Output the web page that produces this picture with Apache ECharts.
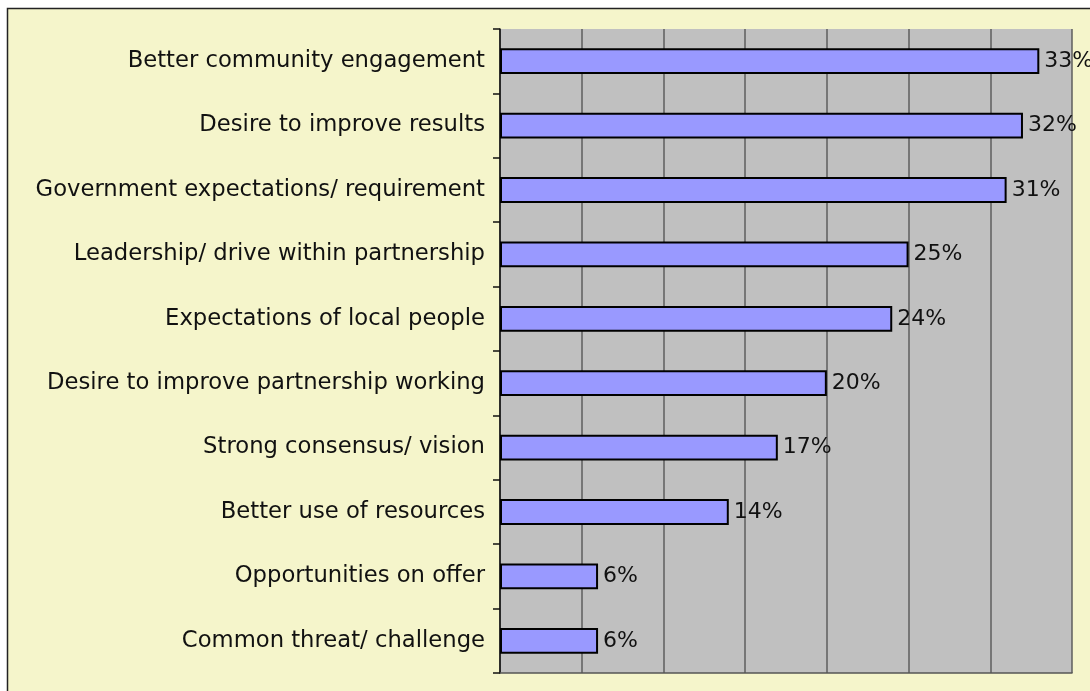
<!DOCTYPE html>
<html>
<head>
<meta charset="utf-8">
<script src="https://cdn.jsdelivr.net/npm/echarts@6/dist/echarts.min.js"></script>
<style>
  html, body { margin: 0; padding: 0; background: #ffffff; }
  #chart { width: 1090px; height: 691px; }
</style>
</head>
<body>
<div id="chart"></div>
<script>
// Reasons given for partnership working, share of respondents (%)
const categories = [
  'Better community engagement',
  'Desire to improve results',
  'Government expectations/ requirement',
  'Leadership/ drive within partnership',
  'Expectations of local people',
  'Desire to improve partnership working',
  'Strong consensus/ vision',
  'Better use of resources',
  'Opportunities on offer',
  'Common threat/ challenge'
];
const values = [33, 32, 31, 25, 24, 20, 17, 14, 6, 6];

const FONT = '"DejaVu Sans", Verdana, sans-serif';

const chart = echarts.init(document.getElementById('chart'), null, { renderer: 'canvas' });

chart.setOption({
  animation: false,
  backgroundColor: '#ffffff',
  graphic: [{
    type: 'rect',
    z: -10,
    silent: true,
    shape: { x: 7.5, y: 8.5, width: 1100, height: 700 },
    style: { fill: '#F5F5CB', stroke: '#222222', lineWidth: 1.5 }
  }],
  grid: {
    left: 500,
    right: 18,
    top: 29,
    bottom: 18,
    show: true,
    backgroundColor: '#C0C0C0',
    borderWidth: 0
  },
  xAxis: {
    type: 'value',
    min: 0,
    max: 35,
    interval: 5,
    axisLabel: { show: false },
    axisTick: { show: false },
    axisLine: { show: true, lineStyle: { color: '#555555', width: 1.5 } },
    splitLine: { show: true, lineStyle: { color: '#5E5E5E', width: 1.5 } }
  },
  yAxis: {
    type: 'category',
    data: categories,
    inverse: true,
    axisLine: { show: true, lineStyle: { color: '#111111', width: 1.5 } },
    axisTick: { show: true, length: 7, lineStyle: { color: '#111111', width: 1.5 } },
    axisLabel: {
      color: '#111111',
      fontFamily: FONT,
      fontSize: 22.7,
      margin: 15,
      padding: [4, 0, 0, 0]
    },
    splitLine: { show: false }
  },
  series: [{
    type: 'bar',
    data: values,
    barCategoryGap: '60%',
    itemStyle: {
      color: '#9999FF',
      borderColor: '#000000',
      borderWidth: 2
    },
    label: {
      show: true,
      position: 'right',
      distance: 5,
      formatter: '{c}%',
      color: '#111111',
      fontFamily: FONT,
      fontSize: 22,
      padding: [3, 0, 0, 0]
    }
  }]
});
</script>
</body>
</html>
